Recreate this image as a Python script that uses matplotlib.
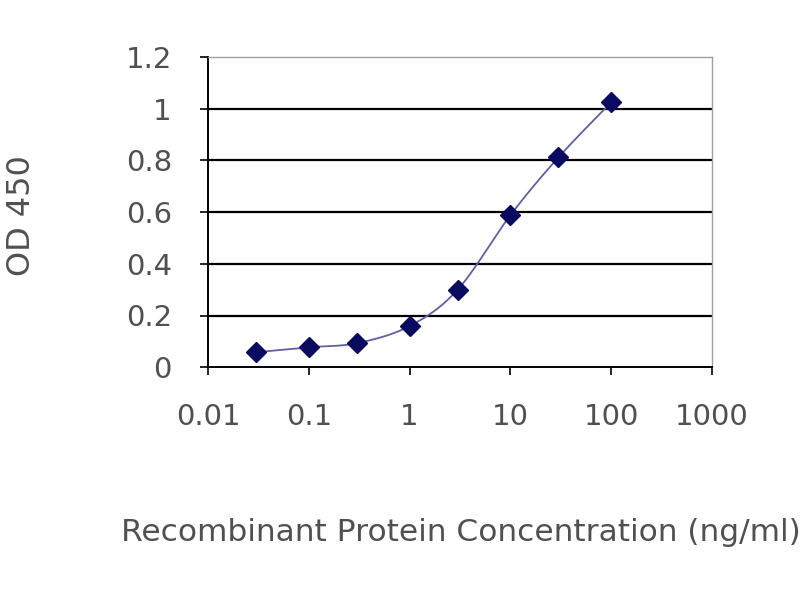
import numpy as np
import matplotlib
matplotlib.use("Agg")
import matplotlib.pyplot as plt

conc = [0.03, 0.1, 0.3, 1, 3, 10, 30, 100]
od450 = [0.058, 0.077, 0.093, 0.159, 0.30, 0.588, 0.812, 1.025]
xticks = [0.01, 0.1, 1, 10, 100, 1000]
xtick_labels = ["0.01", "0.1", "1", "10", "100", "1000"]
yticks = [0, 0.2, 0.4, 0.6, 0.8, 1.0, 1.2]
ytick_labels = ["0", "0.2", "0.4", "0.6", "0.8", "1", "1.2"]

plt.rcParams['font.family'] = ['DejaVu Sans']
text_color = "#505050"

fig = plt.figure(figsize=(8, 6), dpi=100)
ax = fig.add_axes([0.26, 0.388, 0.63, 0.517])
ax.set_xscale("log")
ax.set_xlim(0.01, 1000)
ax.set_ylim(0, 1.2)

# smoothed line (Catmull-Rom in scaled log space, like Excel smoothing)
aspect = (0.517 * 6) / (0.63 * 8)
u = np.log10(np.array(conc, dtype=float)) / 5.0
v = np.array(od450, dtype=float) / 1.2 * aspect
P = np.column_stack([u, v])
pts = []
n = len(P)
for i in range(n - 1):
    p0 = P[i - 1] if i > 0 else P[i]
    p1 = P[i]
    p2 = P[i + 1]
    p3 = P[i + 2] if i + 2 < n else P[i + 1]
    c1 = p1 + (p2 - p0) / 6.0
    c2 = p2 - (p3 - p1) / 6.0
    t = np.linspace(0, 1, 30)[:, None]
    seg = (1 - t) ** 3 * p1 + 3 * (1 - t) ** 2 * t * c1 + 3 * (1 - t) * t ** 2 * c2 + t ** 3 * p2
    pts.append(seg if i == 0 else seg[1:])
S = np.vstack(pts)
xs = 10 ** (S[:, 0] * 5.0)
ys = S[:, 1] / aspect * 1.2
ax.plot(xs, ys, color="#6060a0", lw=1.3, zorder=3)
ax.plot(conc, od450, linestyle="none", marker="D", markersize=10,
        color="#0a0a60", zorder=4)

for yv in yticks[1:-1]:
    ax.axhline(yv, color="black", lw=1.6, zorder=1)

ax.set_xticks(xticks)
ax.set_xticklabels(xtick_labels)
ax.minorticks_off()
ax.set_yticks(yticks)
ax.set_yticklabels(ytick_labels)
ax.tick_params(axis="both", direction="out", length=6, width=1.2, color="black",
               labelsize=21, labelcolor=text_color)
ax.tick_params(axis="x", pad=20)
ax.tick_params(axis="y", pad=20)

for s in ["left", "bottom"]:
    ax.spines[s].set_color("black")
    ax.spines[s].set_linewidth(1.4)
for s in ["top", "right"]:
    ax.spines[s].set_color("#a0a0a0")
    ax.spines[s].set_linewidth(1.0)

fig.text(0.0275, 0.64, "OD 450", rotation=90, ha="center", va="center",
         fontsize=23, color=text_color)
fig.text(0.576, 0.112, "Recombinant Protein Concentration (ng/ml)", ha="center",
         va="center", fontsize=22.5, color=text_color)

fig.savefig("out.png", dpi=100, facecolor="white")
